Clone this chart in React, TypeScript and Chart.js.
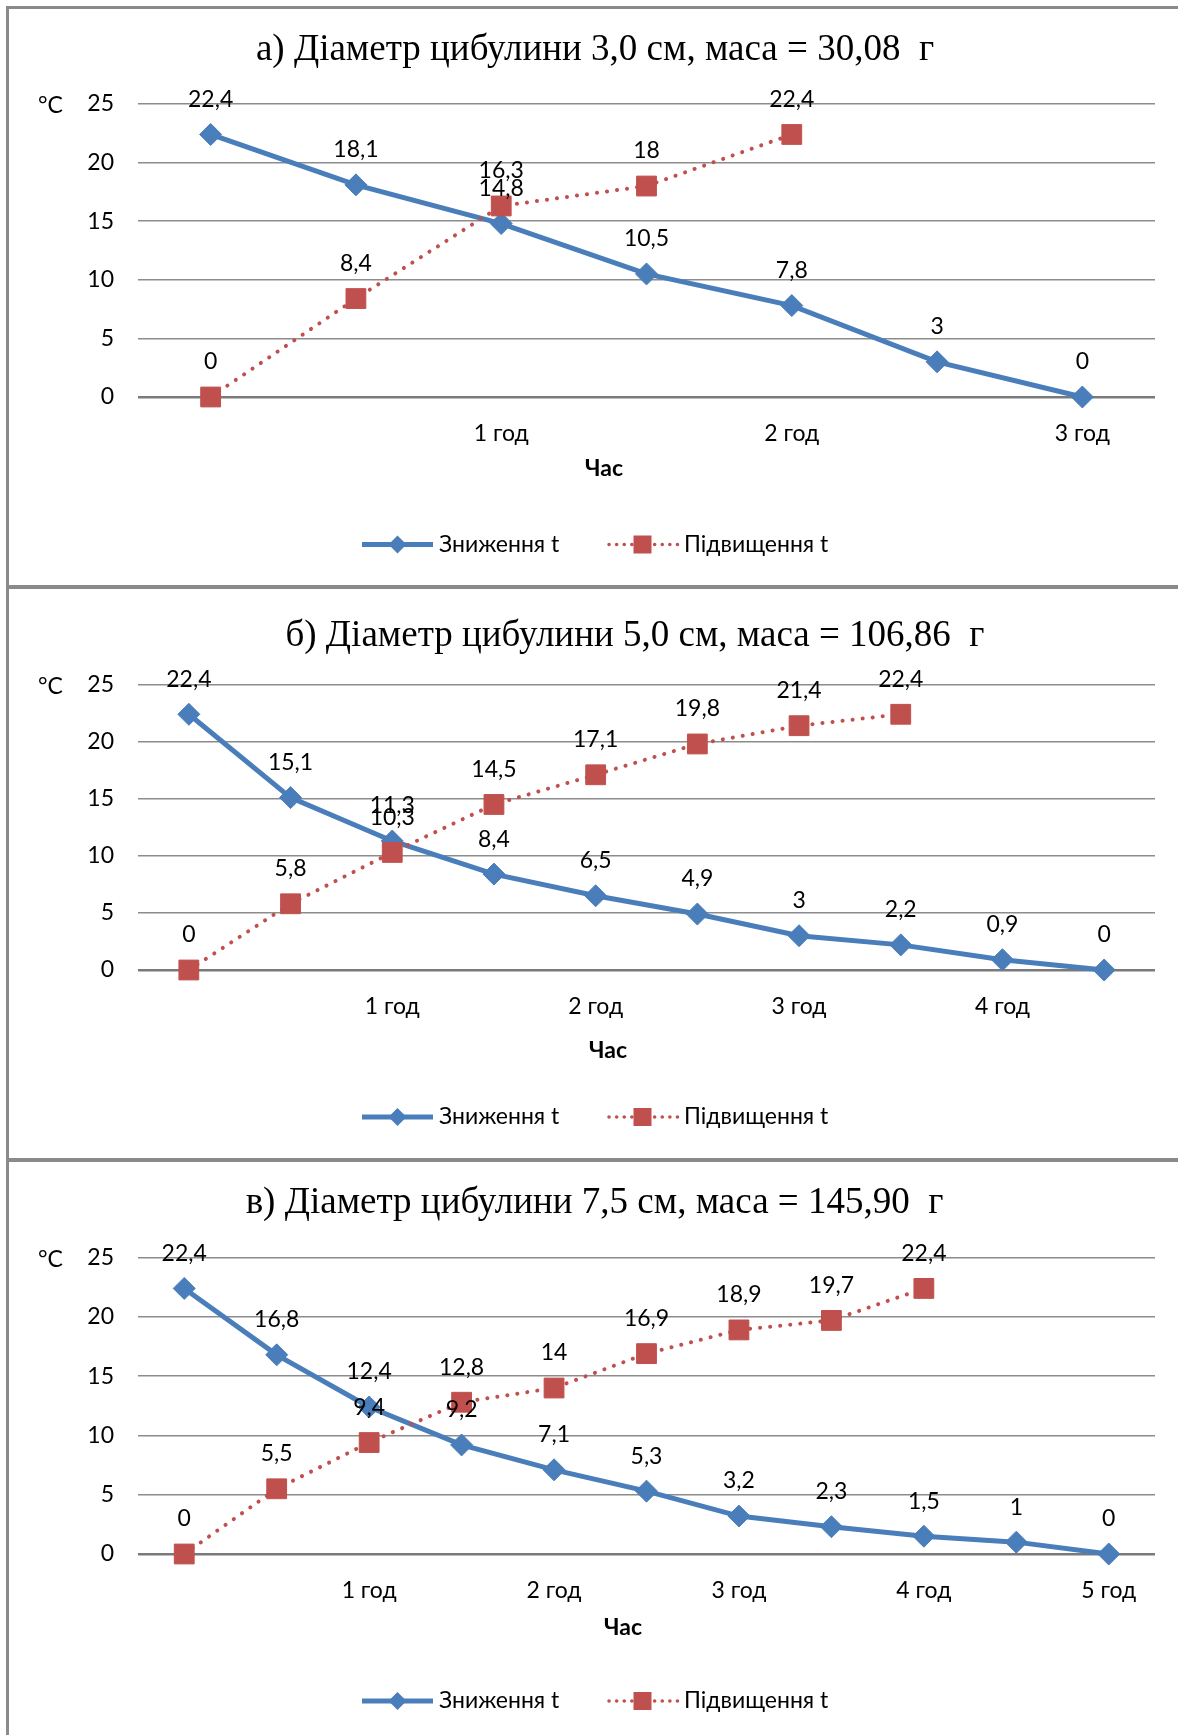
import React, { useEffect, useRef } from "react";
import { Chart, registerables } from "chart.js";

Chart.register(...registerables);

// ---------- data ----------
const SERIES_DOWN = "Зниження t";
const SERIES_UP = "Підвищення t";
const X_TITLE = "Час";
const UNIT = "°C";

const titleA = "а) Діаметр цибулини 3,0 см, маса = 30,08  г";
const labelsA = ["", "", "1 год", "", "2 год", "", "3 год"];
const downA = [22.4, 18.1, 14.8, 10.5, 7.8, 3, 0];
const upA = [0, 8.4, 16.3, 18, 22.4, null, null];

const titleB = "б) Діаметр цибулини 5,0 см, маса = 106,86  г";
const labelsB = ["", "", "1 год", "", "2 год", "", "3 год", "", "4 год", ""];
const downB = [22.4, 15.1, 11.3, 8.4, 6.5, 4.9, 3, 2.2, 0.9, 0];
const upB = [0, 5.8, 10.3, 14.5, 17.1, 19.8, 21.4, 22.4, null, null];

const titleC = "в) Діаметр цибулини 7,5 см, маса = 145,90  г";
const labelsC = ["", "", "1 год", "", "2 год", "", "3 год", "", "4 год", "", "5 год"];
const downC = [22.4, 16.8, 12.4, 9.2, 7.1, 5.3, 3.2, 2.3, 1.5, 1, 0];
const upC = [0, 5.5, 9.4, 12.8, 14, 16.9, 18.9, 19.7, 22.4, null, null];

const yMin = 0;
const yMax = 25;
const yStep = 5;

// ---------- styles ----------
const BLUE = "#4A7EBB";
const RED = "#C0504D";
const GRID = "#8c8c8c";
const SANS = "Lato, 'Open Sans', sans-serif";
const SERIF = "'Liberation Serif', 'Times New Roman', serif";
const FS = 23;

const CANVAS_W = 1169;
const CHART_LEFT = 129;
const CHART_RIGHT = 1146;

type PanelCfg = {
  title: string;
  labels: string[];
  down: (number | null)[];
  up: (number | null)[];
  top: number;
  h: number;
  chartTop: number;
  chartBottom: number;
  titleX: number;
  titleY: number;
  xTitleX: number;
  xTitleY: number;
  legendX: number;
  legendY: number;
};

const panels: PanelCfg[] = [
  { title: titleA, labels: labelsA, down: downA, up: upA, top: 9, h: 576, chartTop: 95, chartBottom: 388, titleX: 586, titleY: 41, xTitleX: 595, xTitleY: 460, legendX: 353, legendY: 535.5 },
  { title: titleB, labels: labelsB, down: downB, up: upB, top: 589, h: 569, chartTop: 95.6, chartBottom: 381, titleX: 626, titleY: 47, xTitleX: 599, xTitleY: 462, legendX: 353, legendY: 528 },
  { title: titleC, labels: labelsC, down: downC, up: upC, top: 1162, h: 573, chartTop: 95.6, chartBottom: 392, titleX: 585.5, titleY: 41, xTitleX: 614, xTitleY: 466, legendX: 353, legendY: 539 },
];

const fmt = (v: number) => String(v).replace(".", ",");

function drawDiamond(ctx: CanvasRenderingContext2D, x: number, y: number, r: number) {
  ctx.beginPath();
  ctx.moveTo(x - r, y);
  ctx.lineTo(x, y - r);
  ctx.lineTo(x + r, y);
  ctx.lineTo(x, y + r);
  ctx.closePath();
  ctx.fillStyle = BLUE;
  ctx.fill();
}

const decorPlugin = {
  id: "decor",
  afterDatasetsDraw(chart: any) {
    const ctx: CanvasRenderingContext2D = chart.ctx;
    ctx.save();
    ctx.font = `${FS}px ${SANS}`;
    ctx.fillStyle = "#000";
    ctx.textAlign = "center";
    ctx.textBaseline = "middle";
    chart.data.datasets.forEach((ds: any, i: number) => {
      const meta = chart.getDatasetMeta(i);
      meta.data.forEach((pt: any, j: number) => {
        const v = ds.data[j];
        if (v === null || v === undefined) return;
        ctx.fillText(fmt(v), pt.x, pt.y - 35);
      });
    });
    ctx.restore();
  },
  afterDraw(chart: any, _args: any, opts: any) {
    const ctx: CanvasRenderingContext2D = chart.ctx;
    const y = chart.scales.y;
    ctx.save();
    // title
    ctx.font = `37px ${SERIF}`;
    ctx.fillStyle = "#000";
    ctx.textAlign = "center";
    ctx.textBaseline = "middle";
    ctx.fillText(opts.title, opts.titleX, opts.titleY);
    // unit
    ctx.font = `${FS}px ${SANS}`;
    ctx.textAlign = "left";
    ctx.fillText(UNIT, 29, y.getPixelForValue(yMax) + 2);
    // x title
    ctx.font = `bold ${FS}px ${SANS}`;
    ctx.textAlign = "center";
    ctx.fillText(X_TITLE, opts.xTitleX, opts.xTitleY);
    // legend
    const ly = opts.legendY;
    let x = opts.legendX;
    ctx.lineCap = "butt";
    ctx.strokeStyle = BLUE;
    ctx.lineWidth = 5;
    ctx.beginPath();
    ctx.moveTo(x, ly);
    ctx.lineTo(x + 71, ly);
    ctx.stroke();
    drawDiamond(ctx, x + 35.5, ly, 9);
    ctx.font = `${FS}px ${SANS}`;
    ctx.textAlign = "left";
    ctx.fillStyle = "#000";
    ctx.fillText(SERIES_DOWN, x + 77, ly);
    x = x + 245;
    ctx.strokeStyle = RED;
    ctx.lineWidth = 3.5;
    ctx.lineCap = "round";
    ctx.setLineDash([0.1, 7.5]);
    ctx.beginPath();
    ctx.moveTo(x + 2, ly);
    ctx.lineTo(x + 71, ly);
    ctx.stroke();
    ctx.setLineDash([]);
    ctx.fillStyle = RED;
    ctx.fillRect(x + 35.5 - 9, ly - 9, 18, 18);
    ctx.fillStyle = "#000";
    ctx.fillText(SERIES_UP, x + 77, ly);
    ctx.restore();
  },
};

function Panel({ cfg }: { cfg: PanelCfg }) {
  const ref = useRef<HTMLCanvasElement>(null);
  useEffect(() => {
    const chart = new Chart(ref.current as HTMLCanvasElement, {
      type: "line",
      data: {
        labels: cfg.labels,
        datasets: [
          {
            label: SERIES_DOWN,
            data: cfg.down,
            borderColor: BLUE,
            backgroundColor: BLUE,
            borderWidth: 5,
            pointStyle: "rectRot",
            pointRadius: 11,
            pointBorderWidth: 1,
            pointBackgroundColor: BLUE,
            pointBorderColor: BLUE,
            tension: 0,
            clip: false,
            order: 1,
          },
          {
            label: SERIES_UP,
            data: cfg.up,
            borderColor: RED,
            backgroundColor: RED,
            borderWidth: 4,
            borderDash: [0.1, 10],
            borderCapStyle: "round",
            pointStyle: "rect",
            pointRadius: 14,
            pointBorderWidth: 1,
            pointBackgroundColor: RED,
            pointBorderColor: RED,
            tension: 0,
            spanGaps: false,
            clip: false,
            order: 0,
          },
        ] as any,
      },
      options: {
        responsive: false,
        animation: false,
        devicePixelRatio: 1,
        layout: {
          padding: { top: cfg.chartTop, right: CANVAS_W - CHART_RIGHT, bottom: 0, left: 0 },
        },
        plugins: {
          legend: { display: false },
          title: { display: false },
          tooltip: { enabled: false },
          decor: {
            title: cfg.title,
            titleX: cfg.titleX,
            titleY: cfg.titleY,
            xTitleX: cfg.xTitleX,
            xTitleY: cfg.xTitleY,
            legendX: cfg.legendX,
            legendY: cfg.legendY,
          },
        } as any,
        scales: {
          x: {
            type: "category",
            offset: true,
            grid: { display: false },
            border: { display: false },
            ticks: {
              autoSkip: false,
              maxRotation: 0,
              minRotation: 0,
              padding: 15,
              color: "#000",
              font: { family: SANS, size: FS },
            },
            afterFit: (s: any) => {
              s.height = cfg.h - cfg.chartBottom;
            },
          },
          y: {
            min: yMin,
            max: yMax,
            grid: {
              drawTicks: false,
              color: (c: any) => (c.tick && c.tick.value === 0 ? "#7a7a7a" : GRID),
              lineWidth: (c: any) => (c.tick && c.tick.value === 0 ? 2.5 : 1.5),
            },
            border: { display: false },
            ticks: {
              stepSize: yStep,
              padding: 24,
              color: "#000",
              font: { family: SANS, size: FS },
            },
            afterFit: (s: any) => {
              s.width = CHART_LEFT;
            },
          },
        } as any,
      },
      plugins: [decorPlugin],
    });
    return () => chart.destroy();
  }, []);
  return (
    <canvas
      ref={ref}
      width={CANVAS_W}
      height={cfg.h}
      style={{ position: "absolute", left: 9, top: cfg.top, display: "block" }}
    />
  );
}

export default function App() {
  const border = "#8a8a8a";
  return (
    <div
      style={{
        position: "absolute",
        left: 0,
        top: 0,
        width: 1178,
        height: 1735,
        overflow: "hidden",
        background: "#fff",
      }}
    >
      <div style={{ position: "absolute", left: 6, top: 6, width: 1200, height: 576, borderLeft: `3px solid ${border}`, borderTop: `3px solid ${border}`, borderBottom: `2px solid ${border}` }} />
      <div style={{ position: "absolute", left: 6, top: 587, width: 1200, height: 569, borderLeft: `3px solid ${border}`, borderTop: `2px solid ${border}`, borderBottom: `2px solid ${border}` }} />
      <div style={{ position: "absolute", left: 6, top: 1160, width: 1200, height: 600, borderLeft: `3px solid ${border}`, borderTop: `2px solid ${border}` }} />
      {panels.map((p, i) => (
        <Panel key={i} cfg={p} />
      ))}
    </div>
  );
}
